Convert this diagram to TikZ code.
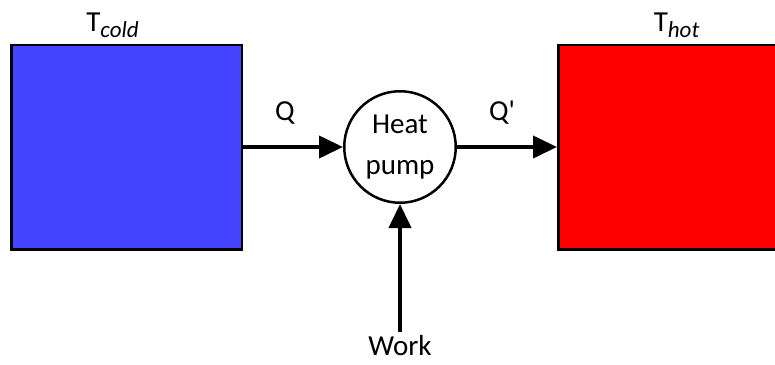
\documentclass[tikz,border=0pt]{standalone}
\usepackage{fontspec}
\setmainfont{Carlito}
\usetikzlibrary{arrows.meta,positioning}
\definecolor{coldblue}{RGB}{68,68,255}
\definecolor{hotred}{RGB}{255,0,0}
\tikzset{
  >={Triangle[length=24pt,width=22pt]},
  bath/.style={
    draw=black, rectangle, line width=2.5pt,
    minimum width=230.5pt, minimum height=204.5pt
  },
  machine/.style={
    draw, circle, align=center, line width=2.5pt, inner sep=0pt,
    minimum size=111.5pt
  },
  tag/.style={inner sep=3pt},
  flow/.style={->, line width=4pt},
}

\begin{document}
\begin{tikzpicture}[x=1pt, y=1pt, font=\fontsize{29}{41}\selectfont]
  \useasboundingbox (0,0) rectangle (775,-364);
  \node[machine] (pump) at (400,-147) {Heat\\pump};
  \node[bath, fill=coldblue, left=100pt of pump] (cold) {};
  \node[bath, fill=hotred, right=100pt of pump] (hot) {};
  \node[tag, above=3pt of cold, xshift=-14pt] (tcold) {T\raisebox{-6pt}{\fontsize{23}{23}\selectfont\itshape cold}};
  \node[tag, above=3pt of hot, xshift=3pt] (thot) {T\raisebox{-6pt}{\fontsize{23}{23}\selectfont\itshape hot}};
  \node[tag, below=128pt of pump] (work) {Work};
  \draw[flow] (cold) -- node[tag, pos=0.42, above=18pt] (q) {Q} (pump);
  \draw[flow] (pump) -- node[tag, pos=0.45, above=18pt] (qq) {Q\textquotesingle} (hot);
  \draw[flow] (work) -- (pump);
\end{tikzpicture}
\end{document}
